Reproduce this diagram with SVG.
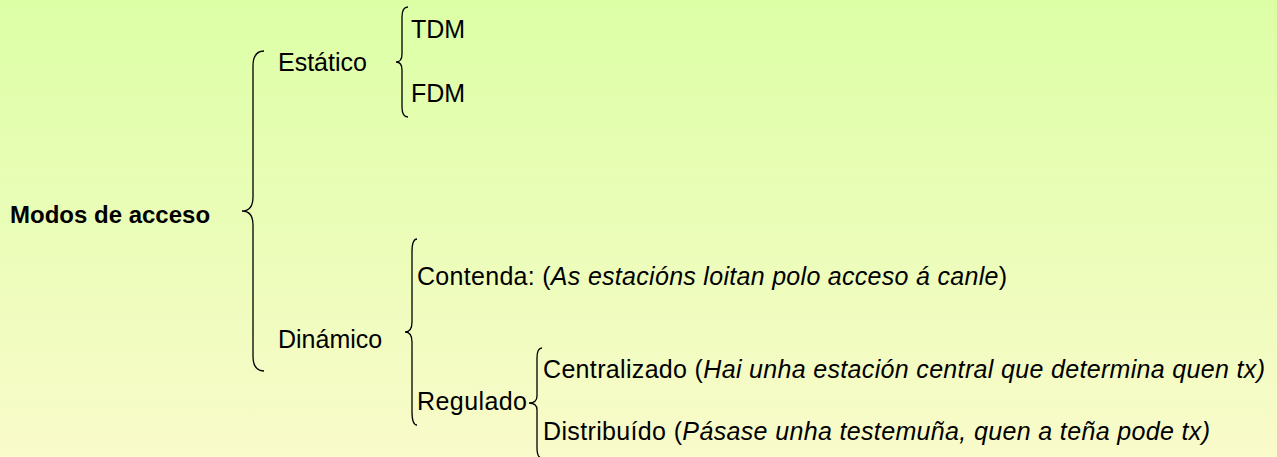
<svg xmlns="http://www.w3.org/2000/svg" width="1277" height="457" viewBox="0 0 1277 457">
<defs>
<linearGradient id="bg" x1="0" y1="0" x2="0" y2="1">
<stop offset="0" stop-color="#DCFFA6"/>
<stop offset="1" stop-color="#F9FBCA"/>
</linearGradient>
<style>
text{font-family:"Liberation Sans",Arial,sans-serif;font-size:25px;fill:#000}
.b{font-weight:bold;font-size:24px}
.i{font-style:italic}
.brace{fill:none;stroke:#000;stroke-width:1.3}
</style>
</defs>
<rect width="1277" height="457" fill="url(#bg)"/>
<g id="connectors">
<path class="brace" d="M264,51 Q253,51 253,66 L253,197 Q253,211 242,211 Q253,211 253,225 L253,356 Q253,371 264,371"/>
<path class="brace" d="M408,7 Q402,7 402,17 L402,54 Q402,62 396,62 Q402,62 402,70 L402,107 Q402,117 408,117"/>
<path class="brace" d="M417,239 Q412,239 412,252 L412,322 Q412,332 405,332 Q412,332 412,342 L412,412 Q412,425 417,425"/>
<path class="brace" d="M542,348 Q537,348 537,358 L537,396 Q537,403 529,403 Q537,403 537,410 L537,448 Q537,458 542,458"/>
</g>
<g id="root"><text class="b" x="10" y="223">Modos de acceso</text></g>
<g id="estatico"><text x="278" y="71">Estático</text></g>
<g id="tdm"><text x="411" y="38">TDM</text></g>
<g id="fdm"><text x="411" y="102">FDM</text></g>
<g id="dinamico"><text x="278" y="348">Dinámico</text></g>
<g id="contenda"><text x="417" y="285" textLength="590" lengthAdjust="spacing">Contenda: (<tspan class="i">As estacións loitan polo acceso á canle</tspan>)</text></g>
<g id="regulado"><text x="417" y="410" textLength="110" lengthAdjust="spacing">Regulado</text></g>
<g id="centralizado"><text x="543" y="378" textLength="722" lengthAdjust="spacing">Centralizado (<tspan class="i">Hai unha estación central que determina quen tx)</tspan></text></g>
<g id="distribuido"><text x="543" y="440" textLength="667" lengthAdjust="spacing">Distribuído (<tspan class="i">Pásase unha testemuña, quen a teña pode tx)</tspan></text></g>
</svg>
